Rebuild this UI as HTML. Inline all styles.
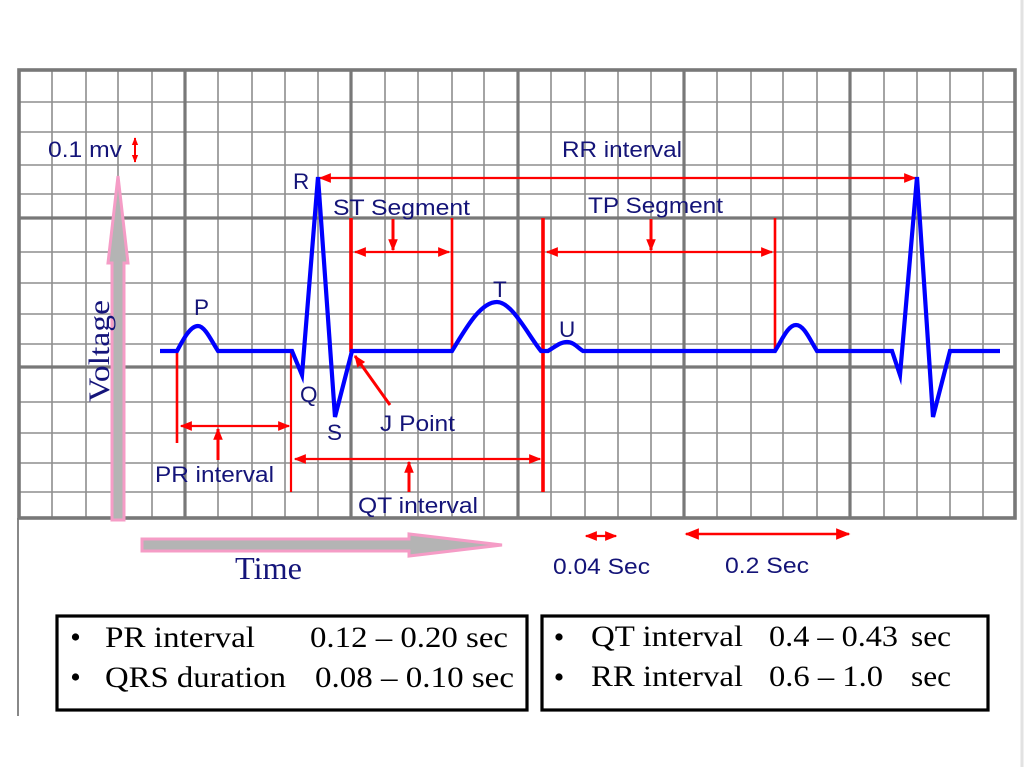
<!DOCTYPE html>
<html><head><meta charset="utf-8"><style>
html,body{margin:0;padding:0;background:#fff;}
svg{display:block;}
.l{font-family:"Liberation Sans",Arial,sans-serif;fill:#141478;}
.s{font-family:"Liberation Serif","Times New Roman",serif;}
</style></head><body>
<svg width="1024" height="767" viewBox="0 0 1024 767" xmlns="http://www.w3.org/2000/svg">
<defs>
<marker id="ah" viewBox="0 0 10 10" refX="9" refY="5" markerWidth="5.5" markerHeight="5.5" orient="auto-start-reverse" markerUnits="strokeWidth">
<path d="M0,1 L10,5 L0,9 z" fill="#ff0000"/>
</marker>
<marker id="ah2" viewBox="0 0 10 10" refX="9" refY="5" markerWidth="4" markerHeight="4" orient="auto-start-reverse" markerUnits="strokeWidth">
<path d="M0,1 L10,5 L0,9 z" fill="#ff0000"/>
</marker>
</defs>
<rect width="1024" height="767" fill="#fff"/>
<line x1="1022" y1="0" x2="1022" y2="767" stroke="#e2e2e2" stroke-width="3"/>
<line x1="18" y1="518" x2="18" y2="716" stroke="#888" stroke-width="2"/>
<g stroke="#8e8e8e" stroke-width="1.6">
<line x1="52" y1="70" x2="52" y2="518"/><line x1="86" y1="70" x2="86" y2="518"/><line x1="118" y1="70" x2="118" y2="518"/><line x1="152" y1="70" x2="152" y2="518"/>
<line x1="218" y1="70" x2="218" y2="518"/><line x1="252" y1="70" x2="252" y2="518"/><line x1="285" y1="70" x2="285" y2="518"/><line x1="318" y1="70" x2="318" y2="518"/>
<line x1="385" y1="70" x2="385" y2="518"/><line x1="418" y1="70" x2="418" y2="518"/><line x1="452" y1="70" x2="452" y2="518"/><line x1="484" y1="70" x2="484" y2="518"/>
<line x1="551" y1="70" x2="551" y2="518"/><line x1="585" y1="70" x2="585" y2="518"/><line x1="618" y1="70" x2="618" y2="518"/><line x1="651" y1="70" x2="651" y2="518"/>
<line x1="717" y1="70" x2="717" y2="518"/><line x1="751" y1="70" x2="751" y2="518"/><line x1="783" y1="70" x2="783" y2="518"/><line x1="817" y1="70" x2="817" y2="518"/>
<line x1="884" y1="70" x2="884" y2="518"/><line x1="917" y1="70" x2="917" y2="518"/><line x1="950" y1="70" x2="950" y2="518"/><line x1="983" y1="70" x2="983" y2="518"/>
<line x1="18" y1="102" x2="1015" y2="102"/><line x1="18" y1="132" x2="1015" y2="132"/><line x1="18" y1="165" x2="1015" y2="165"/><line x1="18" y1="194" x2="1015" y2="194"/>
<line x1="18" y1="252" x2="1015" y2="252"/><line x1="18" y1="283" x2="1015" y2="283"/><line x1="18" y1="314" x2="1015" y2="314"/><line x1="18" y1="344" x2="1015" y2="344"/>
<line x1="18" y1="402" x2="1015" y2="402"/><line x1="18" y1="433" x2="1015" y2="433"/><line x1="18" y1="463" x2="1015" y2="463"/><line x1="18" y1="492" x2="1015" y2="492"/>
</g>
<g stroke="#787878" stroke-width="3.2">
<line x1="185" y1="70" x2="185" y2="518"/><line x1="351" y1="70" x2="351" y2="518"/><line x1="518" y1="70" x2="518" y2="518"/><line x1="684" y1="70" x2="684" y2="518"/><line x1="850" y1="70" x2="850" y2="518"/>
<line x1="18" y1="218" x2="1015" y2="218"/><line x1="18" y1="367" x2="1015" y2="367"/>
</g>
<rect x="19" y="70" width="996" height="448" fill="none" stroke="#787878" stroke-width="3.6"/>

<polygon points="118,176 128,263 124,263 124,520 112,520 112,263 108,263" fill="#b4b4b4" stroke="#f59cc6" stroke-width="3"/>
<polygon points="142,539 409,539 409,534 502,545 409,556 409,551 142,551" fill="#b4b4b4" stroke="#f59cc6" stroke-width="3"/>

<g stroke="#ff0000" fill="none" stroke-linecap="butt">
<line x1="320" y1="178" x2="915" y2="178" stroke-width="2.2" marker-start="url(#ah)" marker-end="url(#ah)"/>
<line x1="351" y1="218" x2="351" y2="352" stroke-width="3.6"/>
<line x1="452" y1="218" x2="452" y2="351" stroke-width="2.6"/>
<line x1="355" y1="252" x2="449" y2="252" stroke-width="2.2" marker-start="url(#ah)" marker-end="url(#ah)"/>
<line x1="393" y1="219" x2="393" y2="250" stroke-width="3" marker-end="url(#ah2)"/>
<line x1="543" y1="218" x2="543" y2="492" stroke-width="3.6"/>
<line x1="775" y1="218" x2="775" y2="351" stroke-width="2.6"/>
<line x1="547" y1="252" x2="772" y2="252" stroke-width="2.2" marker-start="url(#ah)" marker-end="url(#ah)"/>
<line x1="651" y1="219" x2="651" y2="250" stroke-width="3" marker-end="url(#ah2)"/>
<line x1="177" y1="352" x2="177" y2="443" stroke-width="2.6"/>
<line x1="291" y1="353" x2="291" y2="492" stroke-width="2.2"/>
<line x1="181" y1="426" x2="289" y2="426" stroke-width="2.2" marker-start="url(#ah)" marker-end="url(#ah)"/>
<line x1="218" y1="460" x2="218" y2="429" stroke-width="3" marker-end="url(#ah2)"/>
<line x1="295" y1="459" x2="540" y2="459" stroke-width="2.2" marker-start="url(#ah)" marker-end="url(#ah)"/>
<line x1="409" y1="492" x2="409" y2="462" stroke-width="3" marker-end="url(#ah2)"/>
<line x1="390" y1="405" x2="355" y2="356" stroke-width="3" marker-end="url(#ah2)"/>
<line x1="135" y1="138" x2="135" y2="162" stroke-width="2" marker-start="url(#ah2)" marker-end="url(#ah2)"/>
<line x1="586" y1="536" x2="616" y2="536" stroke-width="2.2" marker-start="url(#ah)" marker-end="url(#ah)"/>
<line x1="686" y1="534" x2="849" y2="534" stroke-width="2.6" marker-start="url(#ah)" marker-end="url(#ah)"/>
</g>

<path d="M160,351 L177,351 C183,340 190,326 198,326 C205,326 212,342 218,351 L292,351 L302,375 L318,177 L335,417 L352,351 L452,351 C465,330 480,302 497,302 C512,302 528,335 541,351 L548,351 C555,347 560,342 567,342 C574,342 578,348 583,351 L775,351 C782,340 788,325 796,325 C804,325 810,340 817,351 L892,351 L900,375 L917,177 L933,417 L950,351 L1000,351" fill="none" stroke="#0000ff" stroke-width="4.2" stroke-linejoin="miter" stroke-miterlimit="6"/>

<g class="l" font-size="22.5">
<text x="48" y="157" textLength="74" lengthAdjust="spacingAndGlyphs">0.1 mv</text>
<text x="293" y="189">R</text>
<text x="562" y="157" textLength="120" lengthAdjust="spacingAndGlyphs">RR interval</text>
<text x="333" y="215" textLength="137" lengthAdjust="spacingAndGlyphs">ST Segment</text>
<text x="588" y="213" textLength="135" lengthAdjust="spacingAndGlyphs">TP Segment</text>
<text x="194" y="315">P</text>
<text x="493" y="297">T</text>
<text x="559" y="337">U</text>
<text x="300" y="402">Q</text>
<text x="327" y="440">S</text>
<text x="380" y="431" textLength="75" lengthAdjust="spacingAndGlyphs">J Point</text>
<text x="155" y="482" textLength="119" lengthAdjust="spacingAndGlyphs">PR interval</text>
<text x="358" y="513" textLength="120" lengthAdjust="spacingAndGlyphs">QT interval</text>
<text x="553" y="574" textLength="97" lengthAdjust="spacingAndGlyphs">0.04 Sec</text>
<text x="725" y="573" textLength="84" lengthAdjust="spacingAndGlyphs">0.2 Sec</text>
</g>
<text class="s" fill="#14147a" font-size="30" transform="translate(109,402) rotate(-90)" textLength="102" lengthAdjust="spacingAndGlyphs">Voltage</text>
<text class="s" fill="#14147a" font-size="32" x="235" y="579" textLength="67" lengthAdjust="spacingAndGlyphs">Time</text>

<rect x="57" y="616" width="470" height="94" fill="none" stroke="#000" stroke-width="3.2"/>
<rect x="542" y="616" width="446" height="94" fill="none" stroke="#000" stroke-width="3.2"/>
<g fill="#000">
<circle cx="75.5" cy="637" r="3.6"/><circle cx="75.5" cy="677" r="3.6"/>
<circle cx="559" cy="637" r="3.6"/><circle cx="559" cy="677" r="3.6"/>
</g>
<g class="s" fill="#000" font-size="30">
<text x="105" y="647" textLength="150" lengthAdjust="spacingAndGlyphs">PR interval</text>
<text x="310" y="647" textLength="198" lengthAdjust="spacingAndGlyphs">0.12 – 0.20 sec</text>
<text x="105" y="687" textLength="181" lengthAdjust="spacingAndGlyphs">QRS duration</text>
<text x="315" y="687" textLength="199" lengthAdjust="spacingAndGlyphs">0.08 – 0.10 sec</text>
<text x="591" y="646" textLength="152" lengthAdjust="spacingAndGlyphs">QT interval</text>
<text x="769" y="646" textLength="129" lengthAdjust="spacingAndGlyphs">0.4 – 0.43</text>
<text x="911" y="646" textLength="40" lengthAdjust="spacingAndGlyphs">sec</text>
<text x="591" y="686" textLength="152" lengthAdjust="spacingAndGlyphs">RR interval</text>
<text x="769" y="686" textLength="114" lengthAdjust="spacingAndGlyphs">0.6 – 1.0</text>
<text x="911" y="686" textLength="40" lengthAdjust="spacingAndGlyphs">sec</text>
</g>
</svg>
</body></html>
